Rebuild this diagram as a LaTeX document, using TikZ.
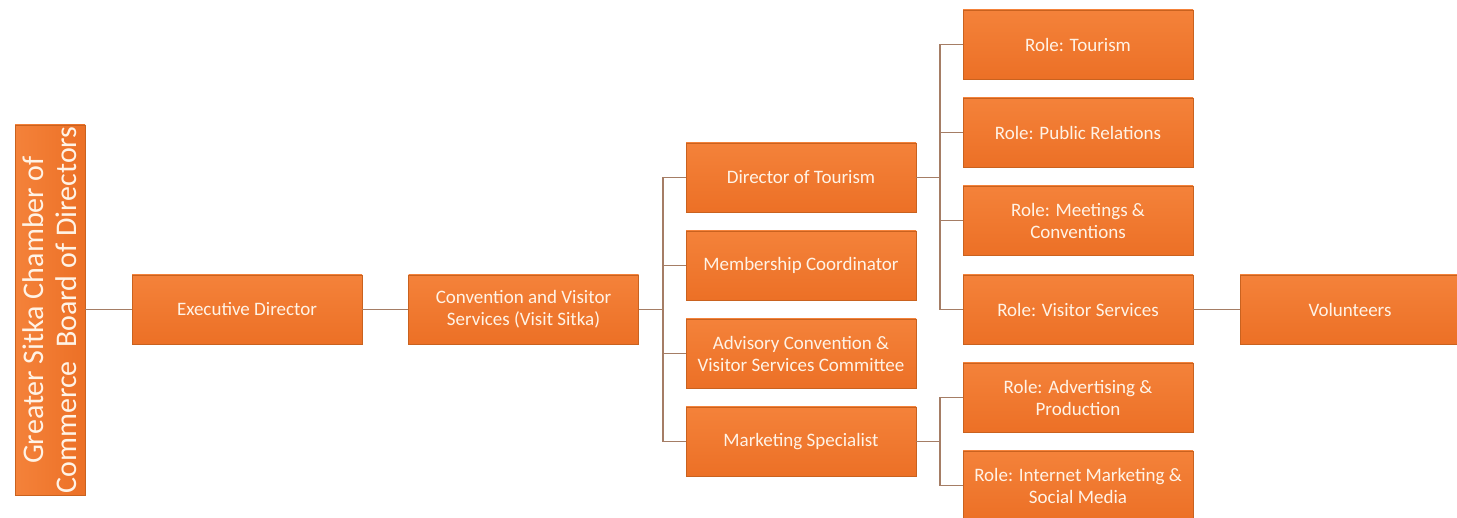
\documentclass[tikz,border=0pt]{standalone}
\usepackage{fontspec}
\setmainfont{Carlito}
\definecolor{boxfill}{HTML}{F17A30}
\definecolor{boxtop}{HTML}{F4823A}
\definecolor{boxbot}{HTML}{EC7026}
\definecolor{boxedge}{HTML}{C9621F}
\definecolor{linkcol}{HTML}{A57D65}
\definecolor{boxtext}{HTML}{FFF3E6}
\begin{document}
\begin{tikzpicture}[x=1pt,y=-1pt,
  orgbox/.style={draw=boxedge,line width=0.8pt,top color=boxtop,bottom color=boxbot,text=boxtext,
    minimum width=230pt,minimum height=69pt,inner sep=2pt,align=center,
    font=\fontsize{19}{22}\selectfont},
  link/.style={draw=linkcol,line width=1.1pt}]
\useasboundingbox (0,0) rectangle (1457,518);
% root: board of directors, written sideways
\node[orgbox,minimum width=70pt,minimum height=370pt,left color=boxtop,right color=boxbot] (board) at (50,310) {};
\node[text=boxtext,rotate=90,align=center,font=\fontsize{30}{33}\selectfont] (boardtext) at (board.center) {Greater Sitka Chamber of\\Commerce\ \ Board of Directors};
% main chain
\node[orgbox] (exec) at (247,309.5) {Executive Director};
\node[orgbox] (cvs) at (523.5,309.5) {Convention and Visitor\\Services (Visit Sitka)};
% staff under Visit Sitka
\node[orgbox] (dot) at (801,177.5) {Director of Tourism};
\node[orgbox] (mem) at (801,265.5) {Membership Coordinator};
\node[orgbox] (adv) at (801,353.5) {Advisory Convention \&\\Visitor Services Committee};
\node[orgbox] (mkt) at (801,441.5) {Marketing Specialist};
% roles
\node[orgbox] (rtour) at (1078,44.5) {Role: Tourism};
\node[orgbox] (rpr) at (1078,132.5) {Role: Public Relations};
\node[orgbox] (rmeet) at (1078,220.5) {Role: Meetings \&\\Conventions};
\node[orgbox] (rvis) at (1078,309.5) {Role: Visitor Services};
\node[orgbox] (radv) at (1078,397.5) {Role: Advertising \&\\Production};
\node[orgbox] (rnet) at (1078,485.5) {Role: Internet Marketing \&\\Social Media};
\node[orgbox,minimum width=220pt] (vol) at (1350,309.5) {Volunteers};
% connectors
\draw[link] (board.east |- exec.west) -- (exec.west);
\draw[link] (exec) -- (cvs);
\coordinate (busA) at (663,309.5);
\draw[link] (cvs.east) -- (busA);
\foreach \n in {dot,mem,adv,mkt} \draw[link] (busA) |- (\n.west);
\coordinate (busB) at (940,177.5);
\draw[link] (dot.east) -- (busB);
\foreach \n in {rtour,rpr,rmeet,rvis} \draw[link] (busB) |- (\n.west);
\coordinate (busC) at (940,441.5);
\draw[link] (mkt.east) -- (busC);
\foreach \n in {radv,rnet} \draw[link] (busC) |- (\n.west);
\draw[link] (rvis) -- (vol);
\end{tikzpicture}
\end{document}
